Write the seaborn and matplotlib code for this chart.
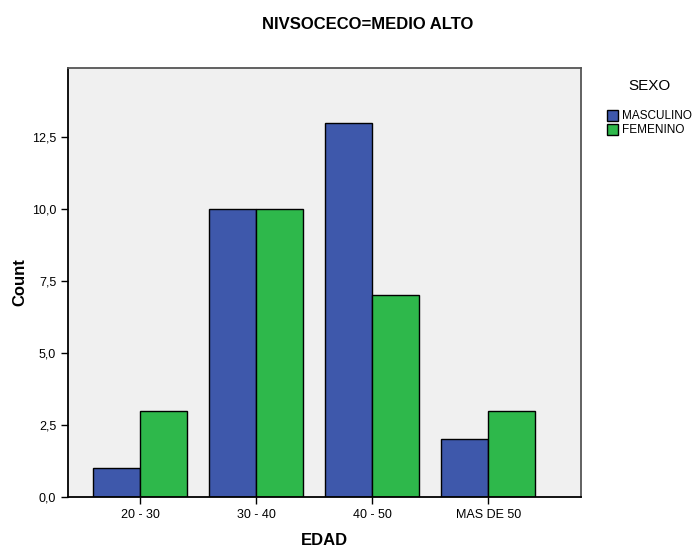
import matplotlib
matplotlib.use('Agg')
import matplotlib.pyplot as plt
import matplotlib.patches as mpatches
from matplotlib.ticker import FuncFormatter
import pandas as pd
import seaborn as sns

edad = ['20 - 30', '30 - 40', '40 - 50', 'MAS DE 50']
sexo = ['MASCULINO', 'FEMENINO']
masculino = [1, 10, 13, 2]
femenino = [3, 10, 7, 3]
colores = {'MASCULINO': '#3e58ab', 'FEMENINO': '#2eb84b'}

df = pd.DataFrame({'EDAD': edad * 2,
                   'SEXO': ['MASCULINO'] * 4 + ['FEMENINO'] * 4,
                   'Count': masculino + femenino})

sns.set_style('white')
plt.rcParams['font.family'] = ['Liberation Sans', 'DejaVu Sans']
plt.rcParams['text.color'] = 'black'
plt.rcParams['axes.labelcolor'] = 'black'
plt.rcParams['xtick.color'] = 'black'
plt.rcParams['ytick.color'] = 'black'

fig = plt.figure(figsize=(6.97, 5.5), dpi=100)
ax = fig.add_axes([0.0976, 0.0964, 0.736, 0.78])
ax.set_facecolor('#f0f0f0')

sns.barplot(data=df, x='EDAD', y='Count', hue='SEXO', order=edad, hue_order=sexo,
            palette=colores, edgecolor='black', linewidth=1, width=0.81, gap=0,
            saturation=1, ax=ax, legend=False)

ax.set_xlim(-0.62, 3.80)
ax.set_ylim(0, 14.9)
ax.set_yticks([0, 2.5, 5, 7.5, 10, 12.5])
ax.yaxis.set_major_formatter(FuncFormatter(lambda v, p: '{:.1f}'.format(v).replace('.', ',')))
ax.tick_params(axis='both', labelsize=9, length=5, width=1, color='black', direction='out',
               left=True, bottom=True)
ax.set_xlabel('EDAD', fontsize=12, fontweight='bold', labelpad=9)
ax.set_ylabel('Count', fontsize=12, fontweight='bold', labelpad=3)

for s in ['left', 'bottom']:
    ax.spines[s].set_color('black')
    ax.spines[s].set_linewidth(1.3)
for s in ['top', 'right']:
    ax.spines[s].set_color('#555555')
    ax.spines[s].set_linewidth(1.3)

fig.text(0.527, 0.955, 'NIVSOCECO=MEDIO ALTO', ha='center', va='center',
         fontsize=12, fontweight='bold')

handles = [mpatches.Patch(facecolor=colores[s], edgecolor='black', label=s) for s in sexo]
leg = fig.legend(handles=handles, title='SEXO', loc='upper left', bbox_to_anchor=(0.855, 0.875),
                 frameon=False, fontsize=8.5, title_fontsize=11, handlelength=1.0, handleheight=1.0,
                 handletextpad=0.3, labelspacing=0.15)
leg._legend_box.sep = 12

fig.savefig('out.png', dpi=100)
